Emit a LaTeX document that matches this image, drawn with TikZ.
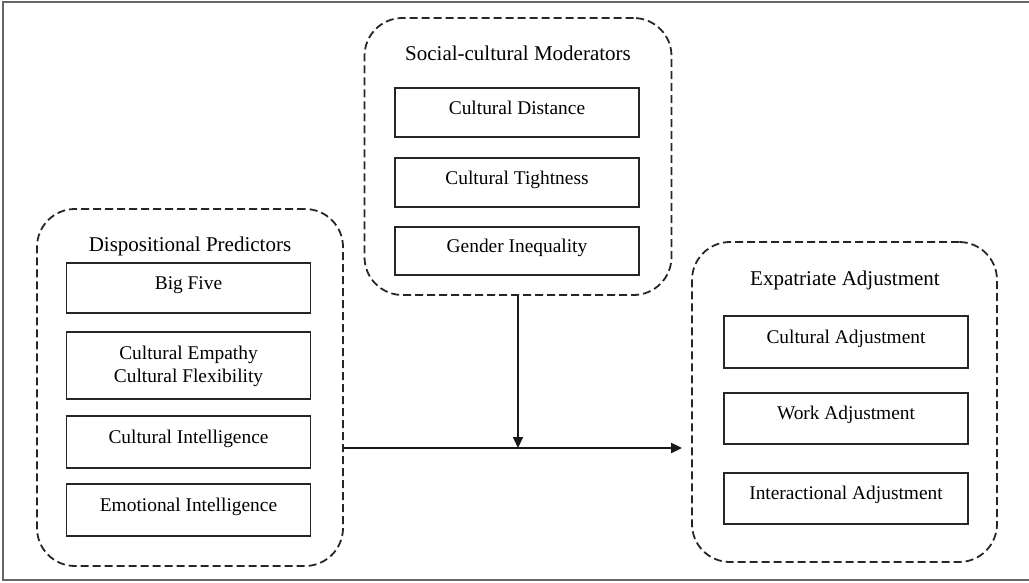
\documentclass[tikz,border=0pt]{standalone}
\usepackage{fontspec}
\setmainfont{Liberation Serif}
\usetikzlibrary{arrows.meta}

\begin{document}
\begin{tikzpicture}[x=1pt, y=-1pt]
  \tikzset{
    grp/.style={draw=black!85, dash pattern=on 8pt off 4pt, line width=1.8pt, rounded corners=38pt, inner sep=0pt},
    item/.style={draw=black!85, line width=1.3pt, minimum width=244pt, inner sep=0pt, align=center,
                 font=\fontsize{19.4}{23}\selectfont},
    ttl/.style={inner sep=0pt, font=\fontsize{21}{24}\selectfont},
    flow/.style={draw=black!90, line width=2pt, -{Triangle[length=11pt, width=10pt]}}
  }

  \useasboundingbox (0,0) rectangle (1029,582);
  % outer frame (right side cut off)
  \draw[black!60, line width=1.5pt] (1030,2) -- (3,2) -- (3,580) -- (1030,580);

  % — Left: dispositional predictors —
  \node[grp, minimum width=306pt, minimum height=357pt] (dp) at (190,387.5) {};
  \node[ttl] (dpt) at (190,246) {Dispositional Predictors};
  \foreach \i/\y/\h/\th/\d/\txt in {1/288/50/14/12/Big Five,
                                    2/365.5/67/37/3/{Cultural Empathy\\Cultural Flexibility},
                                    3/442/52/14/12/Cultural Intelligence,
                                    4/510/52/14/12/Emotional Intelligence} {
    \node[item, minimum height=\h pt, text height=\th pt, text depth=\d pt] (dp\i) at (188.5,\y) {\txt};
  }

  % — Middle: moderators —
  \node[grp, minimum width=307pt, minimum height=277pt] (sm) at (518,156.5) {};
  \node[ttl] (smt) at (518,53) {Social-cultural Moderators};
  \foreach \i/\y/\h/\txt in {1/112.5/49/Cultural Distance,
                             2/182.5/49/Cultural Tightness,
                             3/251/48/Gender Inequality} {
    \node[item, minimum height=\h pt, text height=14pt, text depth=11pt] (sm\i) at (517,\y) {\txt};
  }

  % — Right: expatriate adjustment —
  \node[grp, minimum width=305pt, minimum height=320pt] (ea) at (844.5,402) {};
  \node[ttl] (eat) at (845,280) {Expatriate Adjustment};
  \foreach \i/\y/\h/\txt in {1/342/52/Cultural Adjustment,
                             2/418.5/51/Work Adjustment,
                             3/498.5/51/Interactional Adjustment} {
    \node[item, minimum height=\h pt, text height=14pt, text depth=12pt] (ea\i) at (846,\y) {\txt};
  }

  % arrows
  \coordinate (hub) at (518,448);
  \draw[flow, shorten >=9pt] (dp.east |- hub) -- (ea.west |- hub);
  \draw[flow] (sm.south) -- (hub);
\end{tikzpicture}
\end{document}
